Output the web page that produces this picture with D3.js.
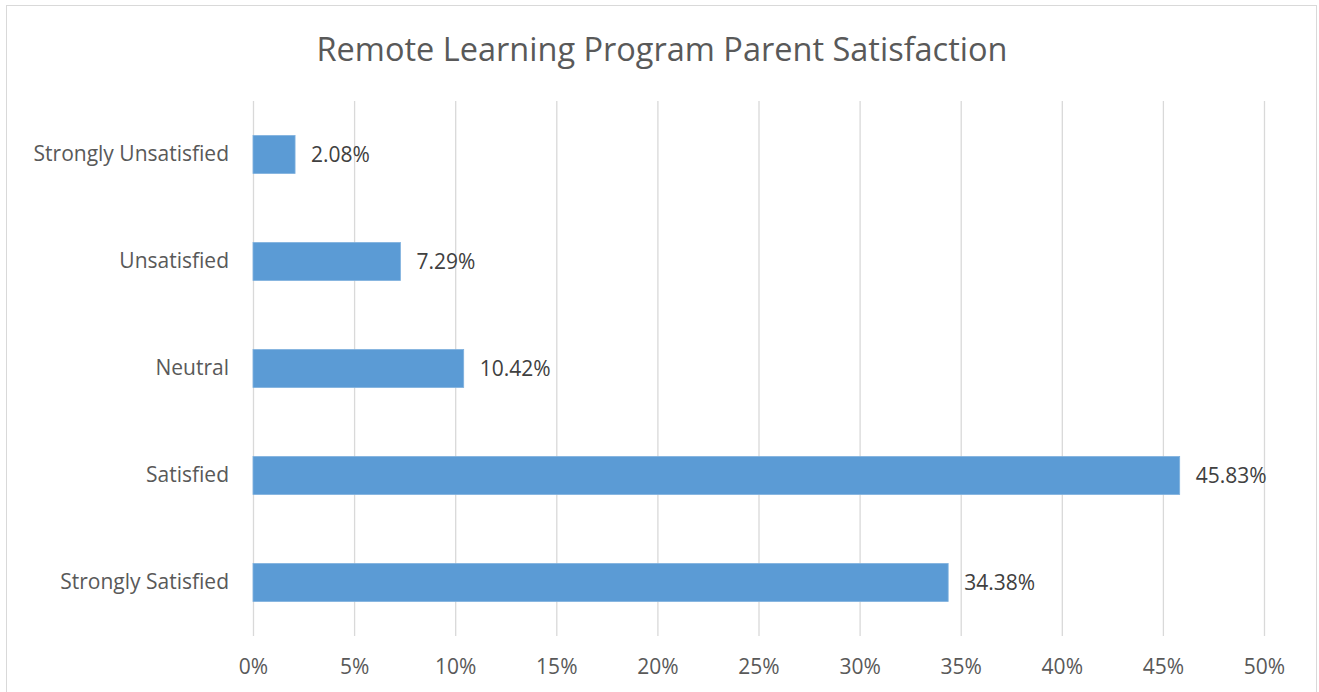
<!DOCTYPE html>
<html>
<head>
<meta charset="utf-8">
<script src="https://cdn.jsdelivr.net/npm/d3@7"></script>
<style>
  html, body { margin: 0; padding: 0; background: #fff; }
  svg { display: block; }
  text { font-family: "Open Sans", sans-serif; }
</style>
</head>
<body>
<div id="chart"></div>
<script>
// chart data
let categories = [
    "Strongly Unsatisfied", "Unsatisfied", "Neutral",
    "Satisfied", "Strongly Satisfied"
];
let values = [2.08, 7.29, 10.42, 45.83, 34.38];
let ticks = [0, 5, 10, 15, 20, 25, 30, 35, 40, 45, 50];
let title = "Remote Learning Program Parent Satisfaction";

let width = 1319, height = 692;
let margin = {top: 101, left: 253, right: 55, bottom: 56};
let font = '"Open Sans", sans-serif';

let svg = d3.select('#chart').append('svg')
    .attr('width', width)
    .attr('height', height);

// outer chart frame
svg.append('rect')
    .attr('x', 6.5).attr('y', 5.5)
    .attr('width', 1310).attr('height', 700)
    .attr('fill', 'none')
    .attr('stroke', '#d9d9d9');

svg.append('text')
    .attr('x', 662).attr('y', 61)
    .attr('text-anchor', 'middle')
    .attr('font-size', 32.5)
    .attr('fill', '#595959')
    .text(title);

let x = d3.scaleLinear()
    .domain([0, 50])
    .range([margin.left, width - margin.right]);

let y = d3.scaleBand()
    .domain(categories)
    .range([margin.top, height - margin.bottom])
    .paddingInner(0.645)
    .paddingOuter(0.3225);

// gridlines
svg.append('g')
    .selectAll('line')
    .data(ticks)
    .join('line')
    .attr('x1', d => x(d) + 0.5).attr('x2', d => x(d) + 0.5)
    .attr('y1', margin.top).attr('y2', height - margin.bottom)
    .attr('stroke', '#d9d9d9')
    .attr('stroke-width', 1.3);

// x axis labels
let xAxis = d3.axisBottom(x)
    .tickValues(ticks)
    .tickFormat(d => d + '%')
    .tickSize(0)
    .tickPadding(23);

let ax = svg.append('g')
    .attr('transform', `translate(0,${height - margin.bottom})`)
    .call(xAxis);
ax.select('.domain').remove();
ax.selectAll('text')
    .attr('font-size', 21)
    .attr('font-family', font)
    .attr('fill', '#595959');

// y axis labels
let yAxis = d3.axisLeft(y).tickSize(0).tickPadding(24);
let ay = svg.append('g')
    .attr('transform', `translate(${margin.left},0)`)
    .call(yAxis);
ay.select('.domain').remove();
ay.selectAll('text')
    .attr('font-size', 21)
    .attr('font-family', font)
    .attr('fill', '#595959');

// bars
svg.append('g')
    .selectAll('rect')
    .data(values)
    .join('rect')
    .attr('x', x(0))
    .attr('y', (d, i) => y(categories[i]))
    .attr('width', d => x(d) - x(0))
    .attr('height', y.bandwidth())
    .attr('fill', '#5b9bd5')
    .attr('stroke', '#7fb1de')
    .attr('stroke-width', 0.8);

// data labels
svg.append('g')
    .selectAll('text')
    .data(values)
    .join('text')
    .attr('x', d => x(d) + 16)
    .attr('y', (d, i) => y(categories[i]) + y.bandwidth() / 2)
    .attr('dy', '0.35em')
    .attr('font-size', 21)
    .attr('fill', '#404040')
    .text(d => d.toFixed(2) + '%');
</script>
</body>
</html>
